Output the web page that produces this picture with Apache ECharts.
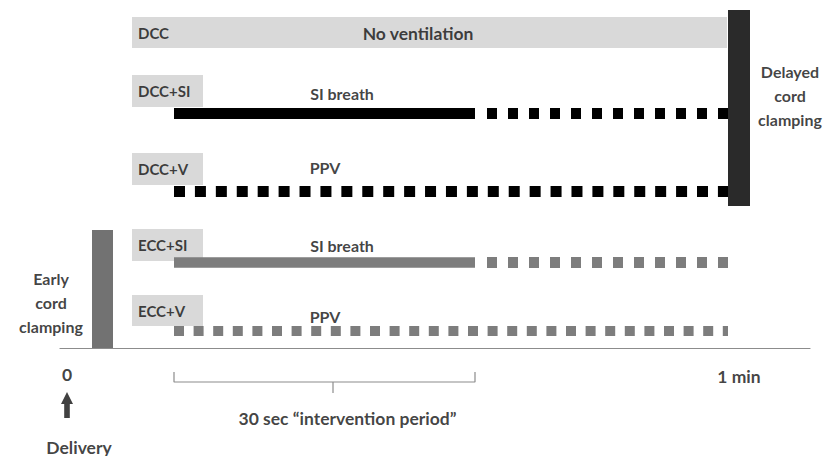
<!DOCTYPE html>
<html>
<head>
<meta charset="utf-8">
<script src="https://cdn.jsdelivr.net/npm/echarts@6/dist/echarts.min.js"></script>
<style>
  html, body { margin: 0; padding: 0; background: #fff; }
  #chart { width: 828px; height: 456px; }
</style>
</head>
<body>
<div id="chart"></div>
<script>
// x: seconds after delivery (schematic), y: lane units above the time axis
const groupNames = ['DCC', 'DCC+SI', 'DCC+V', 'ECC+SI', 'ECC+V']
const groupBoxX = [[6.5, 66.0], [6.5, 13.6], [6.5, 13.6], [6.5, 13.6], [6.5, 13.6]]
const groupBoxY = [[30.0, 33.1], [24.1, 27.3], [16.3, 19.5], [8.7, 11.9], [2.2, 5.3]]

const clampNames = ['Delayed\ncord\nclamping', 'Early\ncord\nclamping']
const clampX = [[66.1, 68.3], [2.5, 4.6]]
const clampY = [[14.2, 33.8], [0, 11.8]]
const clampLabelPos = [[72.3, 25.3], [-1.6, 4.6]]

const interventionStart = 10.7
const interventionEnd = 40.8
const pauseEnd = 42.0
const ventEnd = 66.1
// lanes of the ventilation lines: DCC+SI, DCC+V, ECC+SI, ECC+V
const laneLevels = [23.45, 15.65, 8.55, 1.7]

const noteTexts = ['No ventilation', 'SI breath', 'PPV', 'SI breath', 'PPV']
const notePos = [[35.1, 31.5], [27.5, 25.5], [25.8, 18.1], [27.5, 10.3], [25.8, 3.2]]

const axisTexts = ['0', '1 min', '30 sec \u201cintervention period\u201d', 'Delivery']
const axisTextPos = [[0, -2.6], [67.2, -2.8], [28.05, -7.0], [1.2, -9.9]]

const braceLevels = [-2.4, -3.4, -4.5]
const braceMid = 26.6
const deliveryArrow = [0, -5.7]

const FONT = 'Lato, "Open Sans", sans-serif'
const black = '#000'
const grey = '#7d7d7d'

const chart = echarts.init(document.getElementById('chart'), null, { renderer: 'svg' })

const rectItem = (params, api) => {
  const p0 = api.coord([api.value(0), api.value(3)])
  const p1 = api.coord([api.value(1), api.value(2)])
  return {
    type: 'rect',
    shape: { x: p0[0], y: p0[1], width: p1[0] - p0[0], height: p1[1] - p0[1] },
    style: { fill: api.visual('color') }
  }
}

const lineSeries = (points, color, width, dash) => ({
  type: 'line',
  data: points,
  showSymbol: false,
  silent: true,
  clip: false,
  lineStyle: { color: color, width: width, type: dash || 'solid', cap: 'butt' },
  z: 3
})

const textItem = (value, text, size, align) => ({
  value: value,
  label: {
    show: true,
    formatter: text,
    position: align === 'left' ? 'right' : 'inside',
    distance: 0,
    fontSize: size,
    fontWeight: 'bold',
    fontFamily: FONT,
    color: '#111',
    lineHeight: 24,
    align: align || 'center'
  }
})

const textData = [
  ...groupNames.map((n, i) => textItem([7.1, (groupBoxY[i][0] + groupBoxY[i][1]) / 2], n, 15, 'left')),
  ...noteTexts.map((t, i) => textItem(notePos[i], t, i === 0 ? 17.5 : 16)),
  ...clampNames.map((t, i) => textItem(clampLabelPos[i], t, 16)),
  ...axisTexts.map((t, i) => textItem(axisTextPos[i], t, 17.5))
]

const option = {
  animation: false,
  grid: { left: 60, right: 18, top: 8, bottom: 0 },
  xAxis: {
    type: 'value',
    min: -0.7,
    max: 74.3,
    axisLine: { show: true, onZero: true, lineStyle: { color: '#8c8c8c', width: 1.2 } },
    axisTick: { show: false },
    axisLabel: { show: false },
    splitLine: { show: false }
  },
  yAxis: {
    type: 'value',
    min: -10.8,
    max: 34,
    show: false
  },
  series: [
    {
      type: 'custom',
      renderItem: rectItem,
      itemStyle: { color: '#d9d9d9' },
      data: groupBoxX.map((x, i) => [x[0], x[1], groupBoxY[i][0], groupBoxY[i][1]]),
      silent: true,
      z: 1
    },
    {
      type: 'custom',
      renderItem: rectItem,
      data: clampX.map((x, i) => ({
        value: [x[0], x[1], clampY[i][0], clampY[i][1]],
        itemStyle: { color: i === 0 ? '#2a2a2a' : '#727272' }
      })),
      silent: true,
      z: 4
    },
    // DCC+SI
    lineSeries([[interventionStart, laneLevels[0]], [interventionEnd, laneLevels[0]]], black, 11),
    lineSeries([[pauseEnd, laneLevels[0]], [ventEnd, laneLevels[0]]], black, 11, [10, 11]),
    // DCC+V
    lineSeries([[interventionStart, laneLevels[1]], [ventEnd, laneLevels[1]]], black, 11, [11, 9.92]),
    // ECC+SI
    lineSeries([[interventionStart, laneLevels[2]], [interventionEnd, laneLevels[2]]], grey, 10.5),
    lineSeries([[pauseEnd, laneLevels[2]], [ventEnd, laneLevels[2]]], grey, 11, [10, 11]),
    // ECC+V
    lineSeries([[interventionStart, laneLevels[3]], [ventEnd, laneLevels[3]]], grey, 10, [10, 9.6]),
    // brace under the intervention period
    lineSeries([
      [interventionStart, braceLevels[0]], [interventionStart, braceLevels[1]],
      [interventionEnd, braceLevels[1]], [interventionEnd, braceLevels[0]]
    ], '#8c8c8c', 1.2),
    lineSeries([[braceMid, braceLevels[1]], [braceMid, braceLevels[2]]], '#8c8c8c', 1.2),
    {
      type: 'scatter',
      data: [deliveryArrow],
      symbol: 'path://M6,0 L12,12 L8.8,12 L8.8,26 L3.2,26 L3.2,12 L0,12 Z',
      symbolSize: [12, 26],
      itemStyle: { color: '#111' },
      silent: true,
      clip: false
    },
    {
      type: 'scatter',
      data: textData,
      symbolSize: 0,
      silent: true,
      clip: false,
      z: 5
    }
  ]
}

chart.setOption(option)
</script>
</body>
</html>
